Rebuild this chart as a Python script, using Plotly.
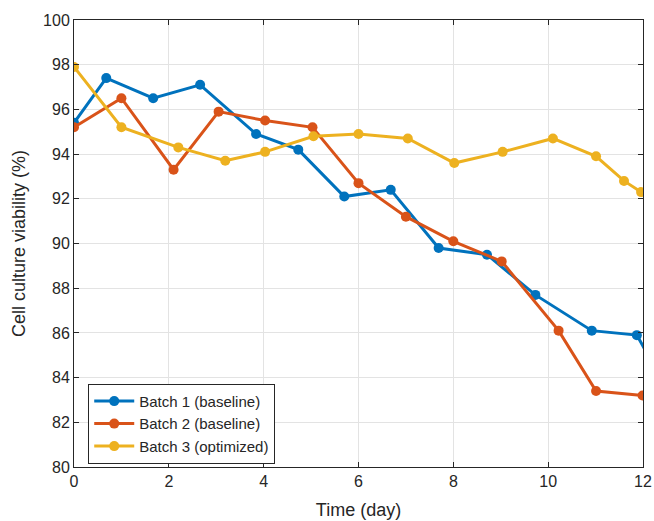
import plotly.graph_objects as go

# Data
b1_x = [0, 0.68, 1.67, 2.66, 3.84, 4.73, 5.70, 6.68, 7.69, 8.71, 9.73, 10.92, 11.87, 12.5]
b1_y = [95.4, 97.4, 96.5, 97.1, 94.9, 94.2, 92.1, 92.4, 89.8, 89.5, 87.7, 86.1, 85.9, 83.5]
b2_x = [0, 1.0, 2.1, 3.05, 4.03, 5.03, 6.0, 7.0, 8.0, 9.02, 10.22, 11.01, 11.99]
b2_y = [95.2, 96.5, 93.3, 95.9, 95.5, 95.2, 92.7, 91.2, 90.1, 89.2, 86.1, 83.4, 83.2]
b3_x = [0, 1.0, 2.2, 3.19, 4.03, 5.05, 6.0, 7.04, 8.02, 9.04, 10.1, 11.01, 11.6, 11.96]
b3_y = [97.9, 95.2, 94.3, 93.7, 94.1, 94.8, 94.9, 94.7, 93.6, 94.1, 94.7, 93.9, 92.8, 92.3]

names = ["Batch 1 (baseline)", "Batch 2 (baseline)", "Batch 3 (optimized)"]
colors = ["#0072BD", "#D95319", "#EDB120"]

x_ticks = [0, 2, 4, 6, 8, 10, 12]
y_ticks = [80, 82, 84, 86, 88, 90, 92, 94, 96, 98, 100]

FONT = "Liberation Sans, Arial"

fig = go.Figure()
for xs, ys, nm, c in zip([b1_x, b2_x, b3_x], [b1_y, b2_y, b3_y], names, colors):
    fig.add_trace(go.Scatter(x=xs, y=ys, name=nm, mode="lines+markers",
                             line=dict(color=c, width=3),
                             marker=dict(color=c, size=10)))

axis_common = dict(showline=True, linecolor="#262626", linewidth=1, mirror="ticks",
                   ticks="inside", ticklen=5, tickcolor="#262626",
                   showgrid=True, gridcolor="#E3E3E3", gridwidth=1, zeroline=False,
                   automargin=False,
                   tickfont=dict(family=FONT, size=16, color="#262626"))

fig.update_xaxes(range=[0, 12], tickvals=x_ticks,
                 title=dict(text="Time (day)", font=dict(family=FONT, size=18, color="#262626"), standoff=14),
                 **axis_common)
fig.update_yaxes(range=[80, 100], tickvals=y_ticks,
                 title=dict(text="Cell culture viability (%)", font=dict(family=FONT, size=18, color="#262626"), standoff=12),
                 **axis_common)

fig.update_layout(
    width=654, height=521,
    margin=dict(l=74, r=11, t=20, b=54),
    plot_bgcolor="white", paper_bgcolor="white",
    legend=dict(x=0.025, y=0.186, xanchor="left", yanchor="top",
                bgcolor="white", bordercolor="#262626", borderwidth=1,
                font=dict(family=FONT, size=15, color="#262626"),
                tracegroupgap=0, itemwidth=40),
)

fig.write_html("out.html")
